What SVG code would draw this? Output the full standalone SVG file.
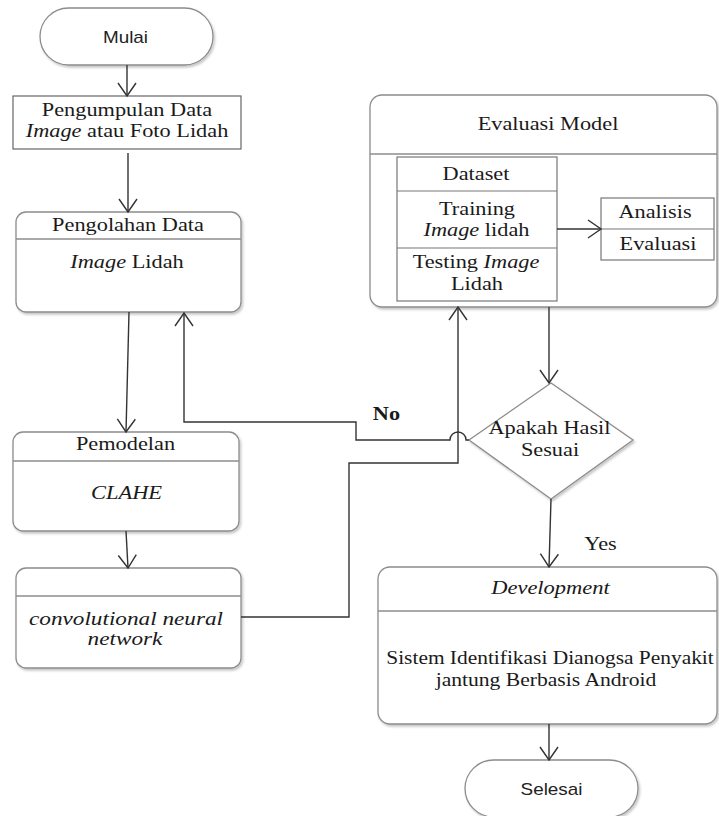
<svg xmlns="http://www.w3.org/2000/svg" width="719" height="816" viewBox="0 0 719 816">
<defs>
<marker id="arr" markerUnits="userSpaceOnUse" markerWidth="30" markerHeight="30" viewBox="-15 -15 30 30" refX="0" refY="0" orient="auto">
<path d="M-13,-9 L0,0 L-13,9" fill="none" stroke="#333" stroke-width="1.4"/>
</marker>
<filter id="sh" x="-5%" y="-5%" width="112%" height="115%">
<feDropShadow dx="1.5" dy="2" stdDeviation="1.2" flood-color="#000" flood-opacity="0.22"/>
</filter>
</defs>
<style>
.rb{fill:#fff;stroke:#8c8c8c;stroke-width:1.3;filter:url(#sh)}
.bx{fill:#fff;stroke:#666;stroke-width:1.2}
.dv{stroke:#8c8c8c;stroke-width:1.3}
.tb{fill:none;stroke:#777;stroke-width:1.2}
.t{font-family:"Liberation Serif","Times New Roman",serif;font-size:18px;fill:#1a1a1a;text-anchor:middle}
.i{font-style:italic}
.b{font-weight:bold}
.s{font-family:"Liberation Sans",Arial,sans-serif;font-size:16px;fill:#222;text-anchor:middle}
.c{fill:none;stroke:#333;stroke-width:1.4}
</style>
<rect width="719" height="816" fill="#fff"/>

<g id="mulai">
<rect class="rb" x="40" y="8" width="173" height="57" rx="28.5"/>
<text class="s" transform="translate(125.5,43) scale(1.18,1)">Mulai</text>
</g>

<g id="pengumpulan">
<rect class="bx" x="13" y="96" width="228" height="53"/>
<text class="t" transform="translate(127,116) scale(1.24,1)">Pengumpulan Data</text>
<text class="t" transform="translate(127,137) scale(1.24,1)"><tspan class="i">Image</tspan> atau Foto Lidah</text>
</g>

<g id="pengolahan">
<rect class="rb" x="16" y="212" width="225" height="100" rx="10"/>
<line class="dv" x1="16" y1="239" x2="241" y2="239"/>
<text class="t" transform="translate(128,231) scale(1.24,1)">Pengolahan Data</text>
<text class="t" transform="translate(127,268) scale(1.24,1)"><tspan class="i">Image</tspan> Lidah</text>
</g>

<g id="pemodelan">
<rect class="rb" x="13" y="432" width="226" height="99" rx="10"/>
<line class="dv" x1="13" y1="461" x2="239" y2="461"/>
<text class="t" transform="translate(125.5,450) scale(1.24,1)">Pemodelan</text>
<text class="t i" transform="translate(126.5,499) scale(1.25,1)">CLAHE</text>
</g>

<g id="cnn">
<rect class="rb" x="16" y="568" width="225" height="100" rx="10"/>
<line class="dv" x1="16" y1="596" x2="241" y2="596"/>
<text class="t i" transform="translate(126,625) scale(1.29,1)">convolutional neural</text>
<text class="t i" transform="translate(125,645) scale(1.29,1)">network</text>
</g>

<g id="evaluasi-model">
<rect class="rb" x="370" y="95" width="347" height="212" rx="12"/>
<line class="dv" x1="370" y1="154" x2="717" y2="154"/>
<text class="t" transform="translate(548,130) scale(1.24,1)">Evaluasi Model</text>
</g>

<g id="dataset">
<rect class="tb" x="397" y="157" width="160" height="144"/>
<line class="tb" x1="397" y1="191" x2="557" y2="191"/>
<line class="tb" x1="397" y1="248" x2="557" y2="248"/>
<text class="t" transform="translate(476,180) scale(1.24,1)">Dataset</text>
<text class="t" transform="translate(477,215) scale(1.24,1)">Training</text>
<text class="t" transform="translate(476.5,236) scale(1.24,1)"><tspan class="i">Image</tspan> lidah</text>
<text class="t" transform="translate(476,268) scale(1.24,1)">Testing <tspan class="i">Image</tspan></text>
<text class="t" transform="translate(477,290) scale(1.24,1)">Lidah</text>
</g>

<g id="analisis">
<rect class="tb" x="601" y="198" width="113" height="62"/>
<line class="tb" x1="601" y1="229" x2="714" y2="229"/>
<text class="t" transform="translate(655,218) scale(1.24,1)">Analisis</text>
<text class="t" transform="translate(658,250) scale(1.24,1)">Evaluasi</text>
</g>

<g id="keputusan">
<polygon class="rb" points="551,383 633,440 551,499 469,440"/>
<text class="t" transform="translate(549.5,434) scale(1.24,1)">Apakah Hasil</text>
<text class="t" transform="translate(550,456) scale(1.24,1)">Sesuai</text>
</g>

<g id="development">
<rect class="rb" x="378" y="567" width="339" height="157" rx="12"/>
<line class="dv" x1="378" y1="611" x2="717" y2="611"/>
<text class="t i" transform="translate(550.5,594) scale(1.25,1)">Development</text>
<text class="t" transform="translate(550,664) scale(1.19,1)">Sistem Identifikasi Dianogsa Penyakit</text>
<text class="t" transform="translate(546,686) scale(1.2,1)">jantung Berbasis Android</text>
</g>

<g id="selesai">
<rect class="rb" x="465" y="760" width="173" height="57" rx="28.5"/>
<text class="s" transform="translate(551.5,795) scale(1.18,1)">Selesai</text>
</g>

<g id="connectors">
<path class="c" d="M127,65 V96" marker-end="url(#arr)"/>
<path class="c" d="M128,153 V212" marker-end="url(#arr)"/>
<path class="c" d="M129,312 L126,432" marker-end="url(#arr)"/>
<path class="c" d="M126,531 L128,568" marker-end="url(#arr)"/>
<path class="c" d="M241,617 H349 V463 H458 V307" marker-end="url(#arr)"/>
<path class="c" d="M469,440 H466 A8,8 0 0 0 450,440 H356 V422 H184 V313" marker-end="url(#arr)"/>
<path class="c" d="M549,307 V383" marker-end="url(#arr)"/>
<path class="c" d="M557,229 H601" marker-end="url(#arr)"/>
<path class="c" d="M551,499 L549,567" marker-end="url(#arr)"/>
<path class="c" d="M549,724 V760" marker-end="url(#arr)"/>
<text class="t b" transform="translate(386.5,420) scale(1.24,1)">No</text>
<text class="t" transform="translate(600.5,550) scale(1.24,1)">Yes</text>
</g>
</svg>
